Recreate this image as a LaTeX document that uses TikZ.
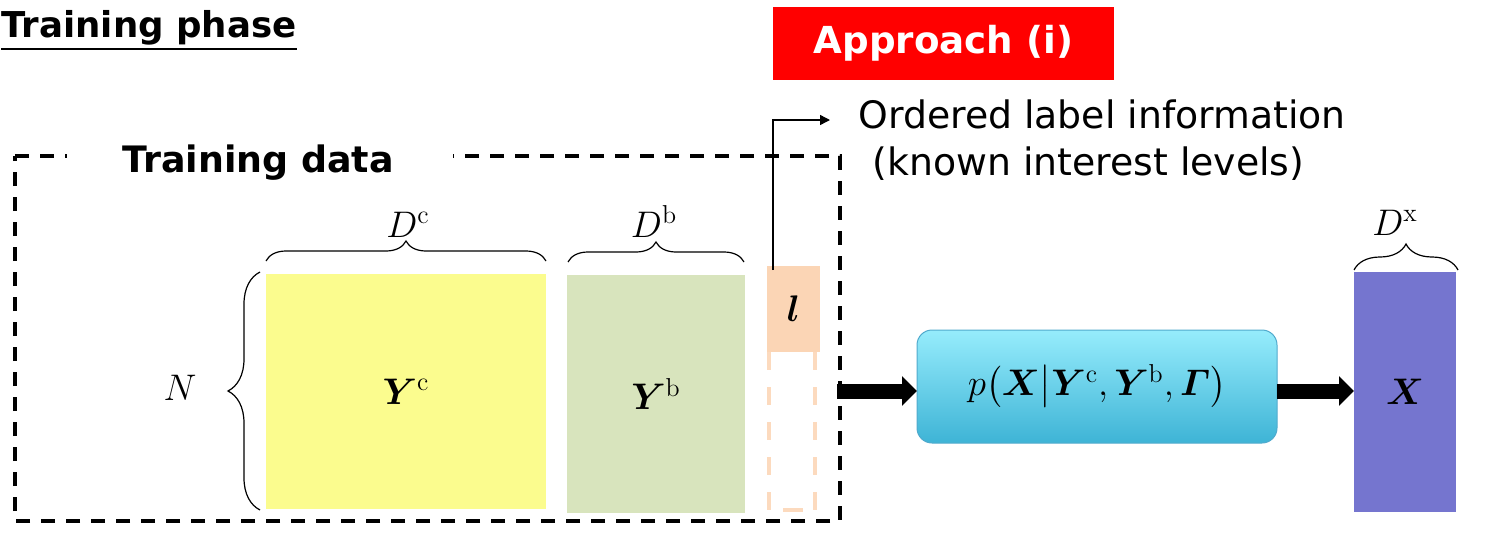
\RequirePackage{fix-cm}
\documentclass[tikz,border=0pt]{standalone}
\usepackage[no-math]{fontspec}
\usepackage{amsmath,bm}
\setmainfont{DejaVu Sans}
\usetikzlibrary{decorations.pathreplacing,arrows.meta}

\definecolor{ycol}{RGB}{251,252,142}
\definecolor{gcol}{RGB}{216,228,189}
\definecolor{pcol}{RGB}{251,213,181}
\definecolor{pdash}{RGB}{252,218,190}
\definecolor{xcol}{RGB}{117,117,207}
\definecolor{ctop}{RGB}{150,236,252}
\definecolor{cbot}{RGB}{62,180,214}
\definecolor{cedge}{RGB}{80,170,205}
\definecolor{redbox}{RGB}{255,0,0}

\tikzset{
  mathlbl/.style={font=\fontsize{18.5}{20}\selectfont, inner sep=0pt},
  block/.style={inner sep=0pt, outer sep=0pt, draw=none, font=\fontsize{18.5}{20}\selectfont},
  bigarrow/.style={line width=7.5pt, -{Triangle[width=14.5pt,length=7.5pt]}},
  brc/.style={decorate, decoration={brace,amplitude=#1}, line width=0.6pt},
  frame/.style={line width=1.6pt, dash pattern=on 7pt off 5.5pt},
  peachdash/.style={pdash, line width=2.2pt, dash pattern=on 9pt off 8.5pt},
}

\begin{document}
\begin{tikzpicture}[x=0.5pt,y=-0.5pt]
\useasboundingbox (0,0) rectangle (1494,546);

% title
\node[anchor=base west, inner sep=0pt, font=\bfseries\fontsize{17.8}{20}\selectfont] (tp) at (1,37) {Training phase};
\draw[line width=1pt] ([yshift=-6pt]tp.base west) -- ([yshift=-6pt]tp.base east);

% dashed frame around the training data
\draw[frame] (15,156) -- (840,156) -- (840,521) -- (15,521) -- cycle;
\fill[white] (67,148) rectangle (453,166);
\node[anchor=base west, inner sep=0pt, font=\bfseries\fontsize{18.2}{20}\selectfont] (td) at (122,172) {Training data};

% data matrices
\node[block, fill=ycol, minimum width=140pt, minimum height=117.5pt] (yc) at (406,391.5) {$\bm{Y}^{\mathrm{c}}$};
\node[block, fill=gcol, minimum width=89pt, minimum height=119pt] (yb) at (656,394) {$\bm{Y}^{\mathrm{b}}$};
\node[block, fill=pcol, minimum width=26.5pt, minimum height=43pt] (l) at (793.5,309) {$\bm{l}$};
\draw[peachdash] (769,352) -- (769,510);
\draw[peachdash] (815,352) -- (815,510);
\draw[pdash, line width=2.2pt] (783,510) -- (803,510);

% braces
\draw[brc=10pt] ([yshift=6.5pt]yc.north west) -- ([yshift=6.5pt]yc.north east);
\node[mathlbl, anchor=base] (dc) at (408,237) {$D^{\mathrm{c}}$};
\draw[brc=10pt] ([yshift=6.5pt,xshift=0.5pt]yb.north west) -- ([yshift=6.5pt,xshift=-0.5pt]yb.north east);
\node[mathlbl, anchor=base] (db) at (654,237) {$D^{\mathrm{b}}$};
\draw[brc=16pt] ([xshift=-3pt,yshift=-0.5pt]yc.south west) -- ([xshift=-3pt,yshift=1pt]yc.north west);
\node[mathlbl] (n) at (180,388) {$N$};

% label information
\coordinate (lab) at (830,120);
\draw[line width=0.7pt, -{Triangle[length=5pt,width=5pt]}] ([xshift=3pt,yshift=-2pt]l.north west) |- (lab);
\node[anchor=base west, inner sep=0pt, font=\fontsize{18.9}{22}\selectfont] (ord1) at (858,128) {Ordered label information};
\node[anchor=base west, inner sep=0pt, font=\fontsize{18.9}{22}\selectfont] (ord2) at (872,175) {(known interest levels)};

% approach tag
\node[block, fill=redbox, text=white, minimum width=170.5pt, minimum height=36.5pt, font=\bfseries\fontsize{18.6}{20}\selectfont] (appr) at (943.5,43.5) {Approach (i)};

% model
\node[block, draw=cedge, line width=0.5pt, rounded corners=7.5pt, top color=ctop, bottom color=cbot, minimum width=180pt, minimum height=56.5pt] (model) at (1097,386.5)
  {$p\bigl(\bm{X}\big|\bm{Y}^{\mathrm{c}},\bm{Y}^{\mathrm{b}},\bm{\varGamma}\bigr)$};

% output matrix
\node[block, fill=xcol, minimum width=51pt, minimum height=120pt] (xb) at (1405,392) {$\bm{X}$};
\draw[brc=13pt] ([yshift=1pt]xb.north west) -- ([yshift=1pt,xshift=1pt]xb.north east);
\node[mathlbl, anchor=base] (dx) at (1395,235) {$D^{\mathrm{x}}$};

% flow arrows
\coordinate (a1) at (837,391);
\draw[bigarrow] (a1) -- (a1 -| model.west);
\coordinate (a2) at (1277,391);
\draw[bigarrow] (a2) -- (a2 -| xb.west);
\end{tikzpicture}
\end{document}
